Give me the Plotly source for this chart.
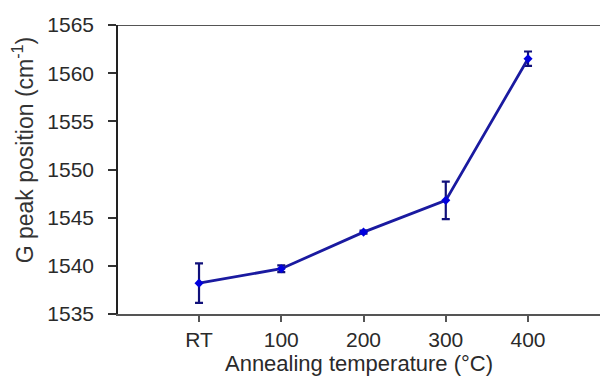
import plotly.graph_objects as go

# Annealing temperature categories and G peak positions
categories = ["RT", "100", "200", "300", "400"]
g_peak = [1538.2, 1539.7, 1543.5, 1546.8, 1561.5]
g_err = [2.05, 0.35, 0.15, 1.95, 0.75]
y_ticks = [1535, 1540, 1545, 1550, 1555, 1560, 1565]

x_pos = list(range(len(categories)))

fig = go.Figure()
fig.add_trace(go.Scatter(
    x=x_pos,
    y=g_peak,
    mode="lines+markers",
    line=dict(color="#1a1aa0", width=2.8),
    marker=dict(symbol="diamond", size=7, color="#0000dd"),
    error_y=dict(type="data", array=g_err, visible=True,
                 color="#10107a", thickness=2.2, width=4),
    showlegend=False,
))

# Line across the top of the plot area at 1565
fig.add_shape(type="line", xref="paper", yref="y", x0=0, x1=1, y0=1565, y1=1565,
              line=dict(color="#555555", width=2))

fig.add_annotation(
    text="G peak position (cm<sup>-1</sup>)",
    xref="paper", yref="paper", x=-0.232, y=0.567,
    textangle=-90, showarrow=False,
    font=dict(family="Liberation Sans, Arial", size=23, color="#333333"),
)

fig.update_layout(
    width=603, height=380,
    margin=dict(l=118, r=3, t=25, b=66),
    paper_bgcolor="white", plot_bgcolor="white",
    font=dict(family="Liberation Sans, Arial", size=21, color="#2a2a2a"),
    xaxis=dict(
        range=[-0.985, 4.875],
        tickmode="array", tickvals=x_pos, ticktext=categories,
        showgrid=False, zeroline=False,
        showline=True, linecolor="#555555", linewidth=2,
        ticks="outside", ticklen=6, tickwidth=1.5, tickcolor="#555555",
        title=dict(text="Annealing temperature (°C)", font=dict(size=22), standoff=5),
    ),
    yaxis=dict(
        range=[1535, 1565],
        tickmode="array", tickvals=y_ticks,
        showgrid=False, zeroline=False,
        showline=True, linecolor="#222222", linewidth=1.5,
        ticks="outside", ticklen=8, tickwidth=1.5, tickcolor="#333333",
        ticklabelstandoff=10,
    ),
)

fig.write_html("out.html")
